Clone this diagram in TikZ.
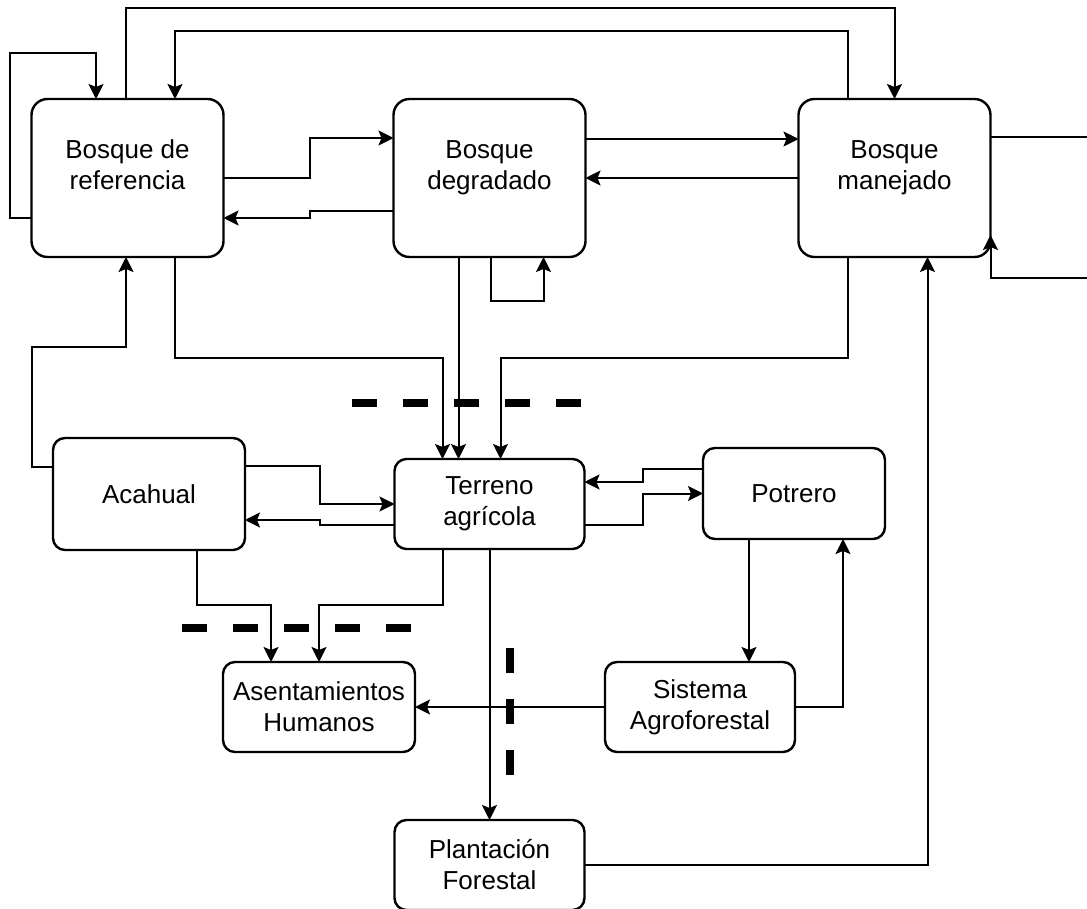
\documentclass[tikz,border=0pt]{standalone}
\usepackage{fontspec}
\setmainfont{Liberation Sans}
\usetikzlibrary{arrows.meta,positioning}
\tikzset{
  bigbox/.style={rounded corners=8pt,draw,line width=1.2pt,minimum width=96pt,
                 minimum height=79pt,inner sep=0pt,outer sep=0pt,align=center},
  smallbox/.style={rounded corners=6pt,draw,line width=1.2pt,minimum width=95pt,
                 minimum height=45pt,inner sep=0pt,outer sep=0pt,align=center},
  arr/.style={-{Stealth[length=7.5pt,width=7.5pt,inset=1.5pt]},line width=1pt},
  cut/.style={line width=3.8pt,dash pattern=on 12.5pt off 13pt},
}

\begin{document}
\begin{tikzpicture}[x=0.5pt,y=-0.5pt,
    every node/.style={font=\fontsize{13}{15.5}\selectfont}]
  \useasboundingbox (0,0) rectangle (1087,909);

  \node[bigbox] (ref) at (127.5,178) {Bosque de\\referencia\\[-2.5pt]\mbox{}};
  \node[bigbox,right=85pt of ref] (deg) {Bosque\\degradado\\[-2.5pt]\mbox{}};
  \node[bigbox,right=106.5pt of deg] (man) {Bosque\\manejado\\[-2.5pt]\mbox{}};

  \node[smallbox,minimum height=56pt,minimum width=96pt] (aca) at (149,494) {Acahual};
  \node[smallbox,below=101pt of deg] (ter) {Terreno\\agr\'icola};
  \node[smallbox,minimum width=91pt,minimum height=45.5pt] (pot) at (794,493.5) {Potrero};

  \node[smallbox,minimum width=96pt] (ase) at (319,707) {Asentamientos\\Humanos};
  \node[smallbox,right=95pt of ase] (sis) {Sistema\\Agroforestal};
  \node[smallbox,below=135.5pt of ter] (pla) {Plantaci\'on\\Forestal};

  % top row
  \draw[arr] ([yshift=-20pt]ref.west) -| (10,53) -| ([xshift=-15.75pt]ref.north);
  \draw[arr] ([xshift=-0.75pt]ref.north) |- (500,8) -| (man.north);
  \draw[arr] ([xshift=-23.5pt]man.north) |- (500,31) -| ([xshift=23.75pt]ref.north);
  \draw[arr] (ref.east) -| (310,158) |- ([yshift=20pt]deg.west);
  \draw[arr] ([yshift=-16.5pt]deg.west) -| (310,214) |- ([yshift=-20pt]ref.east);
  \draw[arr] ([yshift=19.5pt]deg.east) -- ([yshift=19.5pt]man.west);
  \draw[arr] (man.west) -- (deg.east);
  \draw[arr] ([yshift=20.5pt]man.east) -| (1095,278) -| ([yshift=-28.5pt]man.east);
  \draw[arr] ([xshift=0.5pt]deg.south) |- (520,301) -| ([xshift=27pt]deg.south);

  % down to terreno
  \draw[arr] ([yshift=13.5pt]aca.west) -| (32,347) -| ([xshift=-0.75pt]ref.south);
  \draw[arr] ([xshift=23.75pt]ref.south) |- (300,358) -| ([xshift=-23.5pt]ter.north);
  \draw[arr] ([xshift=-15.5pt]deg.south) -- ([xshift=-15.5pt]ter.north);
  \draw[arr] ([xshift=-23.5pt]man.south) |- (600,358) -| ([xshift=5.5pt]ter.north);
  \draw[arr] (pla.east) -| ([xshift=16.5pt]man.south);

  % middle row
  \draw[arr] ([yshift=14pt]aca.east) -| (320,485) |- (ter.west);
  \draw[arr] ([yshift=-10.5pt]ter.west) -| (320,522) |- ([yshift=-13pt]aca.east);
  \draw[arr] ([yshift=12.5pt]pot.west) -| (643,475) |- ([yshift=11pt]ter.east);
  \draw[arr] ([yshift=-10.5pt]ter.east) -| (643,510) |- (pot.west);

  % bottom
  \draw[arr] ([xshift=24pt]aca.south) |- (230,605) -| ([xshift=-24pt]ase.north);
  \draw[arr] ([xshift=-23.5pt]ter.south) |- (400,605) -| (ase.north);
  \draw[arr] (ter.south) -- (pla.north);
  \draw[arr] (sis.west) -- (ase.east);
  \draw[arr] ([xshift=-22.5pt]pot.south) -- ([xshift=24.5pt]sis.north);
  \draw[arr] (sis.east) -| ([xshift=24.5pt]pot.south);

  \draw[cut] (352,403) -- (582,403);
  \draw[cut] (182,628) -- (412,628);
  \draw[cut] (510,648) -- (510,784);
\end{tikzpicture}
\end{document}
